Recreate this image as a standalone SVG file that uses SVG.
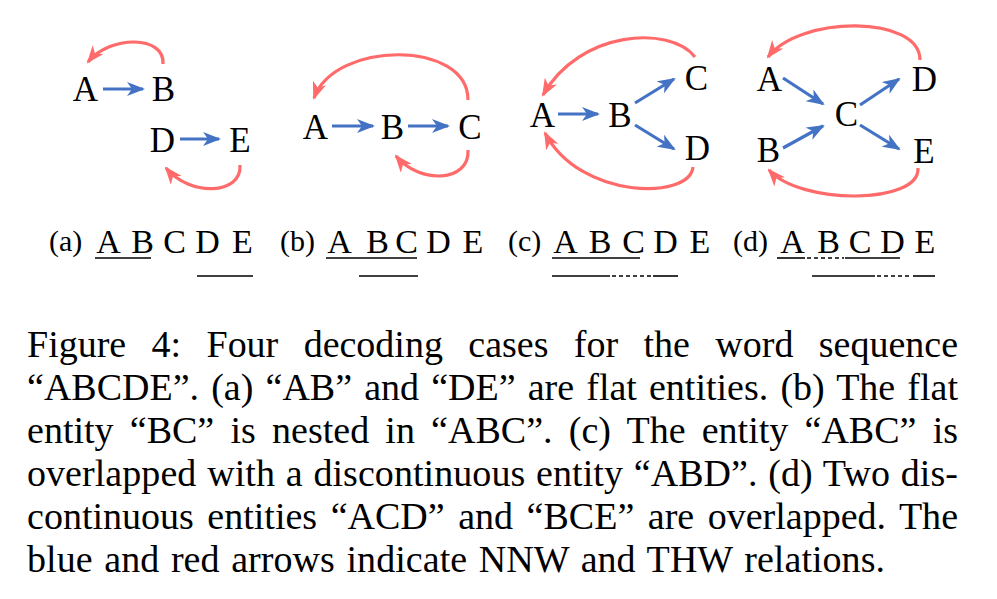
<svg xmlns="http://www.w3.org/2000/svg" width="997" height="599" viewBox="0 0 997 599">
<style>
.n{font-family:"Liberation Serif","Times New Roman",serif;font-size:35px;fill:#000;text-anchor:middle}
.l{font-family:"Liberation Serif","Times New Roman",serif;font-size:30px;fill:#000}
.lc{font-family:"Liberation Serif","Times New Roman",serif;font-size:34px;fill:#000;text-anchor:middle}
.cap{font-family:"Liberation Serif","Times New Roman",serif;font-size:38px;fill:#000}
.b{stroke:#4472C4;stroke-width:3.2;fill:none;marker-end:url(#mb)}
.r{stroke:#FF6B6B;stroke-width:3.2;fill:none;marker-end:url(#mr)}
.u{stroke:#000;stroke-width:1.6}
.d{stroke:#000;stroke-width:1.6;stroke-dasharray:4 3}
</style>
<defs>
<marker id="mb" viewBox="0 0 18 14" refX="16" refY="7" markerWidth="18" markerHeight="14" markerUnits="userSpaceOnUse" orient="auto"><path d="M0,0 L18,7 L0,14 L5,7 Z" fill="#4472C4"/></marker>
<marker id="mr" viewBox="0 0 18 14" refX="16" refY="7" markerWidth="18" markerHeight="14" markerUnits="userSpaceOnUse" orient="auto"><path d="M0,0 L18,7 L0,14 L5,7 Z" fill="#FF6B6B"/></marker>
</defs>
<rect width="997" height="599" fill="#fff"/>
<!-- panel a -->
<g id="a-A"><text class="n" x="85.5" y="101">A</text></g>
<g id="a-B"><text class="n" x="163.5" y="101">B</text></g>
<g id="a-D"><text class="n" x="162.5" y="152">D</text></g>
<g id="a-E"><text class="n" x="240" y="152">E</text></g>
<!-- panel b -->
<g id="b-A"><text class="n" x="315.5" y="139">A</text></g>
<g id="b-B"><text class="n" x="392.5" y="139">B</text></g>
<g id="b-C"><text class="n" x="470" y="139">C</text></g>
<!-- panel c -->
<g id="c-A"><text class="n" x="542.5" y="127">A</text></g>
<g id="c-B"><text class="n" x="620" y="127">B</text></g>
<g id="c-C"><text class="n" x="696.5" y="90">C</text></g>
<g id="c-D"><text class="n" x="697.5" y="160">D</text></g>
<!-- panel d -->
<g id="d-A"><text class="n" x="769.5" y="91">A</text></g>
<g id="d-B"><text class="n" x="768.5" y="162">B</text></g>
<g id="d-C"><text class="n" x="846.5" y="126">C</text></g>
<g id="d-D"><text class="n" x="924.5" y="91">D</text></g>
<g id="d-E"><text class="n" x="924" y="163">E</text></g>
<g id="connectors">
<path class="b" d="M103,89 L143,89"/>
<path class="b" d="M180,139 L219,139"/>
<path class="r" d="M163,64 C165,35 110,35 88,62"/>
<path class="r" d="M240,165 C242,195 190,197 166,168"/>
<path class="b" d="M332,126 L373,126"/>
<path class="b" d="M408,126 L448,126"/>
<path class="r" d="M468,100 C468,40 335,40 314,98"/>
<path class="r" d="M468,150 C470,182 420,185 396,156"/>
<path class="b" d="M558,114 L598,114"/>
<path class="b" d="M635,103 L674,79"/>
<path class="b" d="M635,125 L674,149"/>
<path class="r" d="M695,57 C670,25 580,30 543,95"/>
<path class="r" d="M693,167 C690,200 580,200 545,133"/>
<path class="b" d="M783,78 L823,104"/>
<path class="b" d="M783,148 L823,126"/>
<path class="b" d="M860,105 L899,79"/>
<path class="b" d="M860,125 L899,149"/>
<path class="r" d="M920,60 C920,15 800,15 768,57"/>
<path class="r" d="M918,168 C920,205 800,205 769,170"/>
</g>
<g id="labels">
<text class="l" x="49" y="251">(a)</text>
<text class="lc" x="108.5" y="253">A</text><text class="lc" x="142.5" y="253">B</text><text class="lc" x="174.5" y="253">C</text><text class="lc" x="207.5" y="253">D</text><text class="lc" x="242.5" y="253">E</text>
<line class="u" x1="95" y1="258" x2="151" y2="258"/>
<line class="u" x1="197" y1="276" x2="253" y2="276"/>
<text class="l" x="280" y="251">(b)</text>
<text class="lc" x="339.5" y="253">A</text><text class="lc" x="377.5" y="253">B</text><text class="lc" x="406.5" y="253">C</text><text class="lc" x="438.5" y="253">D</text><text class="lc" x="473" y="253">E</text>
<line class="u" x1="326" y1="258" x2="417" y2="258"/>
<line class="u" x1="359" y1="276" x2="418" y2="276"/>
<text class="l" x="508" y="251">(c)</text>
<text class="lc" x="565.5" y="253">A</text><text class="lc" x="600" y="253">B</text><text class="lc" x="633.5" y="253">C</text><text class="lc" x="665.5" y="253">D</text><text class="lc" x="700" y="253">E</text>
<line class="u" x1="552" y1="258" x2="640" y2="258"/>
<line class="u" x1="552" y1="276" x2="610" y2="276"/>
<line class="d" x1="612" y1="276" x2="652" y2="276"/>
<line class="u" x1="653" y1="276" x2="678" y2="276"/>
<text class="l" x="733" y="251">(d)</text>
<text class="lc" x="792.5" y="253">A</text><text class="lc" x="828.5" y="253">B</text><text class="lc" x="860" y="253">C</text><text class="lc" x="892.5" y="253">D</text><text class="lc" x="925" y="253">E</text>
<line class="u" x1="777" y1="258" x2="805" y2="258"/>
<line class="d" x1="807" y1="258" x2="844" y2="258"/>
<line class="u" x1="845" y1="258" x2="900" y2="258"/>
<line class="u" x1="812" y1="276" x2="875" y2="276"/>
<line class="d" x1="877" y1="276" x2="912" y2="276"/>
<line class="u" x1="913" y1="276" x2="935" y2="276"/>
</g>
<g id="caption">
<text class="cap" x="27" y="357" word-spacing="15.9" textLength="931" lengthAdjust="spacing">Figure 4: Four decoding cases for the word sequence</text>
<text class="cap" x="27" y="400" word-spacing="2.6" textLength="931" lengthAdjust="spacing">“ABCDE”. (a) “AB” and “DE” are flat entities. (b) The flat</text>
<text class="cap" x="27" y="443" word-spacing="6.7" textLength="931" lengthAdjust="spacing">entity “BC” is nested in “ABC”. (c) The entity “ABC” is</text>
<text class="cap" x="27" y="486" word-spacing="1.2" textLength="931" lengthAdjust="spacing">overlapped with a discontinuous entity “ABD”. (d) Two dis-</text>
<text class="cap" x="27" y="529" word-spacing="4" textLength="931" lengthAdjust="spacing">continuous entities “ACD” and “BCE” are overlapped. The</text>
<text class="cap" x="27" y="572" word-spacing="2.1" textLength="858" lengthAdjust="spacing">blue and red arrows indicate NNW and THW relations.</text>
</g>
</svg>
